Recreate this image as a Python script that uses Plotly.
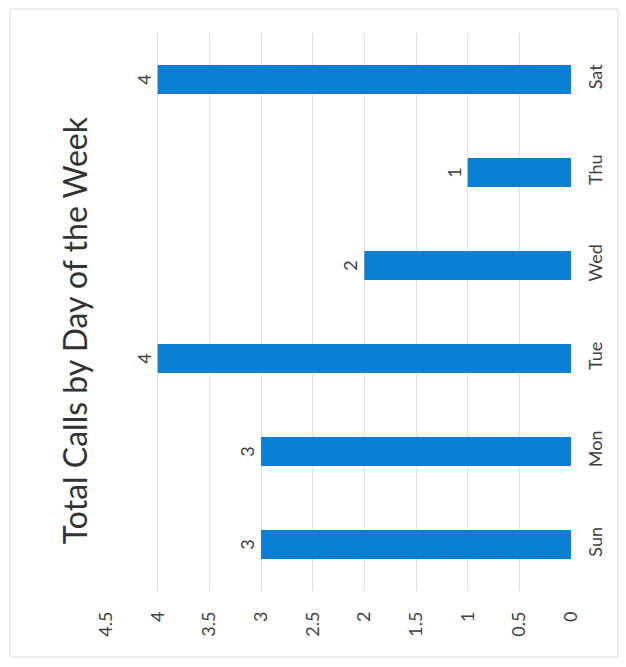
import plotly.graph_objects as go

# Calls logged per weekday (no Friday calls recorded)
days = ["Sun", "Mon", "Tue", "Wed", "Thu", "Sat"]
calls = [3, 3, 4, 2, 1, 4]
value_ticks = [0, 0.5, 1, 1.5, 2, 2.5, 3, 3.5, 4, 4.5]
tick_text = ["0", "0.5", "1", "1.5", "2", "2.5", "3", "3.5", "4", "4.5"]
title_text = "Total Calls by Day of the Week"

FONT = "Lato, 'Open Sans', sans-serif"
TEXT_COLOR = "#404040"
BAR_COLOR = "#0a7ed3"

fig = go.Figure(
    go.Bar(
        x=calls,
        y=days,
        orientation="h",
        marker=dict(color=BAR_COLOR, line=dict(width=0)),
        text=[str(v) for v in calls],
        textposition="outside",
        textangle=-90,
        textfont=dict(family=FONT, size=18, color=TEXT_COLOR),
        cliponaxis=False,
    )
)

fig.update_layout(
    width=626,
    height=667,
    margin=dict(l=106, r=55, t=33, b=76),
    paper_bgcolor="white",
    plot_bgcolor="white",
    bargap=0.69,
    showlegend=False,
    font=dict(family=FONT, color=TEXT_COLOR),
    annotations=[
        dict(
            text=title_text,
            xref="paper",
            yref="paper",
            x=-0.066,
            y=0.468,
            xanchor="center",
            yanchor="middle",
            textangle=-90,
            showarrow=False,
            font=dict(family=FONT, size=32, color="#333333"),
        )
    ],
    shapes=[
        dict(
            type="rect",
            xref="paper",
            yref="paper",
            x0=-96 / 465,
            x1=1 + 47 / 465,
            y0=-66 / 558,
            y1=1 + 24 / 558,
            line=dict(color="#d9d9d9", width=1),
            layer="below",
        )
    ],
)

fig.update_xaxes(
    range=[4.5, 0],
    tickvals=value_ticks,
    ticktext=tick_text,
    tickangle=-90,
    tickfont=dict(family=FONT, size=18, color=TEXT_COLOR),
    showgrid=True,
    gridcolor="#e0e0e0",
    gridwidth=1,
    zeroline=False,
    showline=False,
    ticks="",
    ticklabelstandoff=16,
)

fig.update_yaxes(
    categoryorder="array",
    categoryarray=days,
    side="right",
    tickangle=-90,
    tickfont=dict(family=FONT, size=18, color=TEXT_COLOR),
    showgrid=False,
    showline=False,
    ticks="",
    ticklabelstandoff=12,
)

fig.write_html("out.html")
